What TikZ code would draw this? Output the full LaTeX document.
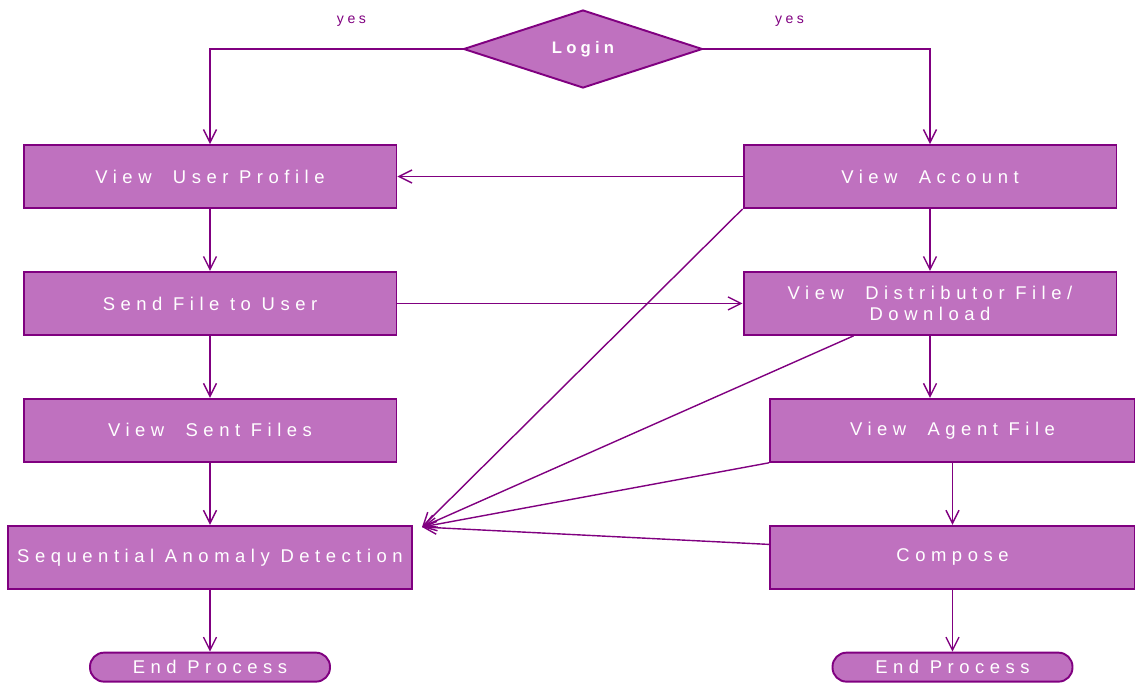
\documentclass[tikz,border=0pt]{standalone}
\usepackage{fontspec}
\setmainfont{Liberation Sans}
\usetikzlibrary{positioning,shapes.geometric,arrows.meta}
\definecolor{orchid}{HTML}{BF71BF}
\definecolor{plum}{HTML}{800080}
\newcommand\stagefont{\fontsize{10.5}{12}\selectfont\addfontfeature{LetterSpace=30}}
\newcommand\loginfont{\fontsize{9.5}{12}\selectfont\addfontfeature{LetterSpace=25}}
\newcommand\yesfont{\fontsize{8}{10}\selectfont\addfontfeature{LetterSpace=25}}

\begin{document}
\begin{tikzpicture}[
    x=0.02cm, y=-0.02cm,
    node distance=1.24cm,
    stage/.style={rectangle, draw=plum, line width=1.1pt, fill=orchid, text=white, minimum width=7.46cm, minimum height=1.26cm, align=center, font=\stagefont},
    decision/.style={diamond, draw=plum, line width=1.1pt, fill=orchid, text=white, minimum width=4.78cm, minimum height=1.56cm, aspect=3, inner sep=0pt, font=\bfseries\loginfont},
    terminal/.style={rectangle, rounded corners=0.28cm, draw=plum, line width=1.1pt, fill=orchid, text=white, minimum width=4.8cm, minimum height=0.58cm, inner sep=1pt, font=\stagefont},
    link/.style={-{Straight Barb[length=2.6mm,width=2.6mm]}, draw=plum, line width=0.8pt},
    yeslabel/.style={text=plum, font=\yesfont}
]
    \useasboundingbox (0,0) rectangle (1135,684);
    \node (login) [decision] at (583,49) {Login};
    % left column
    \node (profile) [stage] at (210,176.5) {View\ \ User Profile};
    \node (sendfile) [stage, below=of profile] {Send File to User};
    \node (sentfiles) [stage, below=of sendfile] {View\ \ Sent Files};
    \node (anomaly) [stage, below=of sentfiles, minimum width=8.08cm] {Sequential Anomaly Detection};
    \node (endleft) [terminal, below=of anomaly] {End Process};
    % right column
    \node (account) [stage] at (930,176.5) {View\ \ Account};
    \node (distfile) [stage, below=of account] {View\ \ Distributor File/\\Download};
    \node (agentfile) [stage, below=of distfile, xshift=0.45cm, minimum width=7.3cm] {View\ \ Agent File};
    \node (compose) [stage, below=of agentfile, minimum width=7.3cm] {Compose};
    \node (endright) [terminal, below=of compose] {End Process};
    \coordinate (hub) at (422,527);

    \draw [link] (login.west) -| node[pos=0.22, above=0.32cm, yeslabel] {yes} (profile.north);
    \draw [link] (login.east) -| node[pos=0.19, above=0.32cm, yeslabel] {yes} (account.north);
    \draw [link] (account.west) -- (profile.east);
    \draw [link] (profile) -- (sendfile);
    \draw [link] (sendfile) -- (sentfiles);
    \draw [link] (sentfiles) -- (anomaly);
    \draw [link] (anomaly) -- (endleft);
    \draw [link] (sendfile.east) -- (distfile.west);
    \draw [link] (account) -- (distfile);
    \draw [link] (distfile.south) -- (distfile.south |- agentfile.north);
    \draw [link] (agentfile) -- (compose);
    \draw [link] (compose) -- (endright);
    \draw [link] (account.south west) -- (hub);
    \draw [link] (distfile.-157) -- (hub);
    \draw [link] (agentfile.south west) -- (hub);
    \draw [link] (compose.176) -- (hub);
\end{tikzpicture}
\end{document}
